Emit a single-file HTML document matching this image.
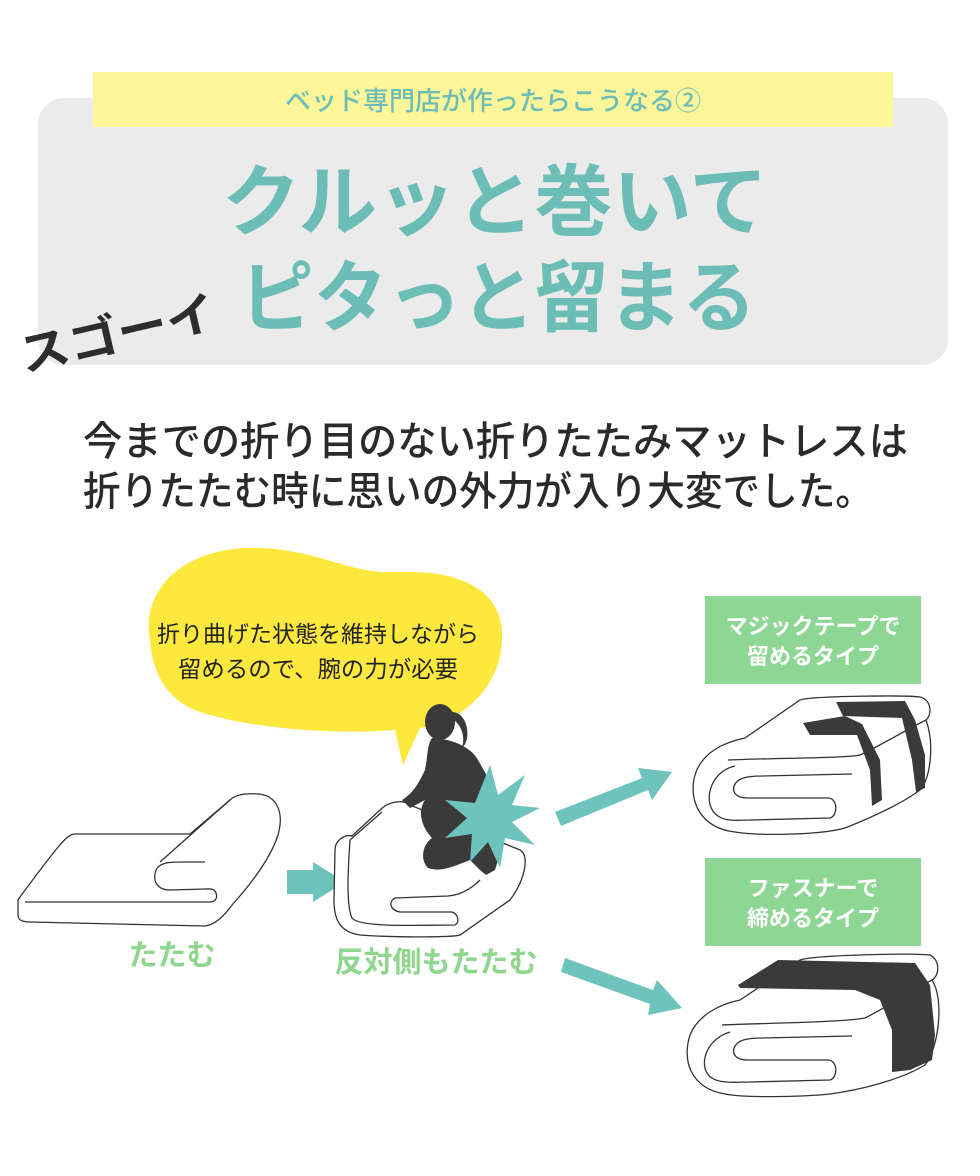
<!DOCTYPE html>
<html><head><meta charset="utf-8"><style>
html,body{margin:0;padding:0;background:#fff;}
svg{display:block;}
text{font-family:"Liberation Sans","Noto Sans CJK JP",sans-serif;}
</style></head><body>
<svg width="980" height="1176" viewBox="0 0 980 1176" xmlns="http://www.w3.org/2000/svg">
<rect x="38" y="98" width="910" height="267" rx="26" fill="#ebebeb"/>
<rect x="93" y="72" width="800" height="55" fill="#fdf59a"/>
<text x="493" y="110" font-size="26" fill="#6cbdb6" text-anchor="middle" font-weight="500">ベッド専門店が作ったらこうなる②</text>
<text x="495" y="229" font-size="78" fill="#6cbdb6" text-anchor="middle" font-weight="bold" textLength="546" lengthAdjust="spacingAndGlyphs">クルッと巻いて</text>
<text x="498" y="325" font-size="78" fill="#6cbdb6" text-anchor="middle" font-weight="bold" textLength="516" lengthAdjust="spacingAndGlyphs">ピタっと留まる</text>
<text x="24" y="372" font-size="46" fill="#2d2d2d" font-weight="bold" transform="rotate(-13 24 372)" textLength="200" lengthAdjust="spacingAndGlyphs">スゴーイ</text>

<text x="83" y="455" font-size="40" fill="#2a2a2a" font-weight="500" textLength="825" lengthAdjust="spacingAndGlyphs">今までの折り目のない折りたたみマットレスは</text>
<text x="83" y="505" font-size="40" fill="#2a2a2a" font-weight="500" textLength="790" lengthAdjust="spacingAndGlyphs">折りたたむ時に思いの外力が入り大変でした。</text>

<!-- speech bubble -->
<path d="M150,640 C140,585 190,545 260,548 C320,550 350,575 400,572 C460,570 505,590 502,640 C500,690 460,722 420,728 L403,765 L395,730 C330,735 250,728 200,712 C165,700 152,670 150,640 Z" fill="#fde83e"/>
<text x="318" y="642" font-size="23" fill="#222" text-anchor="middle" textLength="322" lengthAdjust="spacingAndGlyphs">折り曲げた状態を維持しながら</text>
<text x="318" y="677" font-size="23" fill="#222" text-anchor="middle" textLength="280" lengthAdjust="spacingAndGlyphs">留めるので、腕の力が必要</text>

<!-- mattress 1 -->
<g fill="#fff" stroke="#333" stroke-width="1.3">
<path d="M18,900 L18,915 C18,920 22,922 30,922 L205,926 C215,925 225,915 232,905 C250,885 270,860 278,835 C285,810 275,795 258,794 C245,793 235,795 230,800 L190,834 L75,834 C68,834 62,840 20,897 Z"/>
<path d="M25,902 L210,902 C215,902 218,898 216,893 C214,888 210,889 205,889 L170,890 C158,890 152,882 156,870 C160,862 170,862 185,862 L205,862"/>
<path d="M160,862 L230,800"/>
</g>
<polygon points="287,870 313,870 313,862 345,882 313,902 313,894 287,894" fill="#6ec3bd"/>

<!-- mattress 2 -->
<g fill="#fff" stroke="#333" stroke-width="1.3">
<path d="M335,850 C335,840 345,834 352,836 L380,810 C390,800 405,800 410,805 L520,850 C530,855 525,880 510,900 L460,935 C455,937 400,938 360,935 C340,932 334,920 334,900 Z"/>
<path d="M350,840 C348,870 346,905 352,918 C360,928 420,925 455,925 C460,922 458,914 452,912 L400,912 C390,910 388,902 395,898 L448,896 C460,895 470,890 480,880"/>
<path d="M350,840 L382,812"/>
</g>
<!-- person silhouette -->
<g fill="#3a3a3a">
<ellipse cx="440" cy="722" rx="15" ry="18"/>
<path d="M452,712 C468,712 472,740 462,748 C466,735 460,722 450,718 Z"/>
<path d="M432,738 C447,738 470,745 478,760 L495,790 C505,810 505,840 495,870 L486,875 L480,870 L470,860 C450,868 440,872 428,868 C420,860 422,845 432,838 C420,825 418,810 425,800 L410,808 L402,800 C415,792 420,780 425,770 C428,755 427,745 432,738 Z"/>
</g>
<polygon points="490,765 498,795 525,775 512,805 540,808 512,822 535,845 505,838 500,868 488,842 470,862 472,834 445,838 467,818 445,800 475,803" fill="#6ec3bd"/>

<!-- big arrows -->
<polygon points="555,812 642,778 638,768 672,772 652,800 648,790 561,826" fill="#6ec3bd"/>
<polygon points="565,958 653,990 657,980 682,1008 648,1015 650,1004 561,972" fill="#6ec3bd"/>

<text x="172" y="965" font-size="29" fill="#8fd68f" text-anchor="middle" font-weight="bold">たたむ</text>
<text x="436" y="972" font-size="29" fill="#8fd68f" text-anchor="middle" font-weight="bold">反対側もたたむ</text>

<rect x="705" y="596" width="216" height="88" fill="#8ed694"/>
<text x="813" y="634" font-size="22" fill="#fff" text-anchor="middle" font-weight="bold">マジックテープで</text>
<text x="813" y="664" font-size="22" fill="#fff" text-anchor="middle" font-weight="bold">留めるタイプ</text>
<rect x="705" y="858" width="216" height="88" fill="#8ed694"/>
<text x="813" y="896" font-size="22" fill="#fff" text-anchor="middle" font-weight="bold">ファスナーで</text>
<text x="813" y="926" font-size="22" fill="#fff" text-anchor="middle" font-weight="bold">締めるタイプ</text>

<!-- rolled 1 -->
<g fill="#fff" stroke="#333" stroke-width="1.3">
<path d="M745,738 L800,700 C810,696 905,695 920,697 C932,700 932,715 926,720 C935,745 930,780 920,790 C900,805 870,818 845,828 C820,835 760,836 735,832 C700,828 688,800 695,775 C702,752 725,742 745,738 Z"/>
<path d="M728,760 C775,758 850,758 860,755 C880,746 900,733 926,720"/>
<path d="M735,766 C708,772 702,806 718,816 C726,822 740,820 750,820 L830,818 C838,816 838,798 828,798 L748,798 C738,798 732,794 734,786 C737,778 747,776 762,776 L852,774"/>
</g>
<polygon points="803,723 845,716 862,724 880,760 882,800 872,806 870,770 857,735 810,735" fill="#3a3a3a"/>
<polygon points="836,702 905,701 915,720 925,755 925,788 916,792 912,760 902,718 843,716" fill="#3a3a3a"/>
<!-- rolled 2 -->
<g fill="#fff" stroke="#333" stroke-width="1.3">
<path d="M740,1000 L800,960 C815,955 910,953 930,955 C940,960 940,975 932,980 C945,1000 938,1050 925,1065 C900,1080 860,1090 830,1094 C800,1097 745,1098 725,1094 C690,1088 682,1060 690,1035 C698,1015 720,1004 740,1000 Z"/>
<path d="M722,1025 C770,1023 845,1022 865,1018 C885,1008 905,995 932,980"/>
<path d="M730,1032 C703,1040 698,1070 712,1078 C720,1084 740,1082 750,1082 L830,1080 C838,1078 838,1060 828,1060 L748,1060 C738,1060 732,1056 734,1048 C737,1040 747,1038 762,1038 L852,1036"/>
</g>
<polygon points="738,985 778,960 915,963 930,985 935,1035 932,1060 910,1070 892,1072 892,1030 880,1000 855,990 740,988" fill="#3a3a3a"/>
</svg>
</body></html>
